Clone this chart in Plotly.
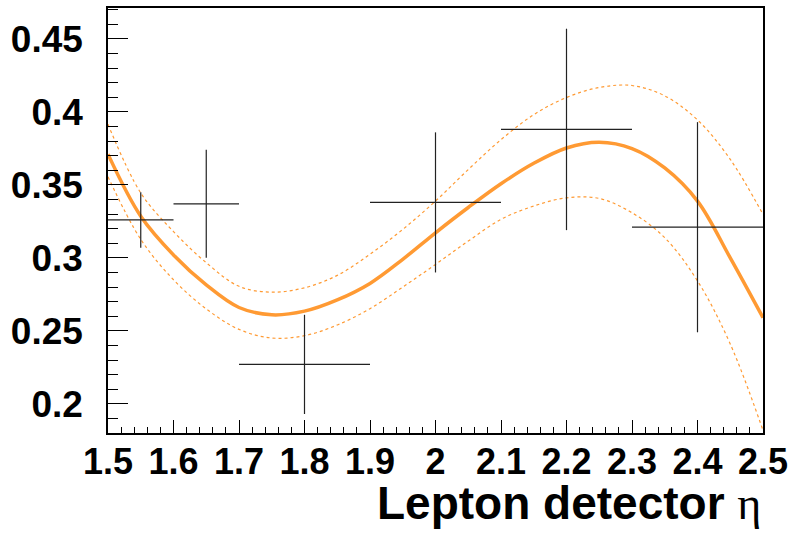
import plotly.graph_objects as go

# Measured points: bin centres, half bin widths, values and uncertainties
eta = [1.55, 1.65, 1.8, 2.0, 2.2, 2.4]
eta_halfwidth = [0.05, 0.05, 0.1, 0.1, 0.1, 0.1]
value = [0.326, 0.337, 0.227, 0.338, 0.388, 0.321]
value_err = [0.019, 0.037, 0.034, 0.048, 0.069, 0.072]

# Fitted curve and its one-sigma band, sampled along eta
fit_eta = [1.50, 1.55, 1.60, 1.65, 1.70, 1.75, 1.80, 1.85, 1.90, 1.95, 2.00,
           2.05, 2.10, 2.15, 2.20, 2.25, 2.30, 2.35, 2.40, 2.45, 2.50]
fit_central = [0.371, 0.3285, 0.3020, 0.2815, 0.2660, 0.2610, 0.2635, 0.2712,
               0.2825, 0.2990, 0.3172, 0.3345, 0.3508, 0.3648, 0.3753, 0.3792,
               0.3749, 0.3616, 0.3389, 0.3000, 0.2590]
fit_upper = [0.3915, 0.3445, 0.3180, 0.2967, 0.2805, 0.2765, 0.2795, 0.2880,
             0.3025, 0.3195, 0.3389, 0.3605, 0.3810, 0.3981, 0.4099, 0.4167,
             0.4181, 0.4110, 0.3945, 0.3675, 0.3298]
fit_lower = [0.3555, 0.3127, 0.2850, 0.2650, 0.2510, 0.2451, 0.2467, 0.2540,
             0.2652, 0.2800, 0.2955, 0.3115, 0.3264, 0.3355, 0.3411, 0.3407,
             0.3309, 0.3138, 0.2842, 0.2410, 0.1818]

x_ticks = [1.5, 1.6, 1.7, 1.8, 1.9, 2.0, 2.1, 2.2, 2.3, 2.4, 2.5]
x_ticktext = ["1.5", "1.6", "1.7", "1.8", "1.9", "2", "2.1", "2.2", "2.3", "2.4", "2.5"]
y_ticks = [0.2, 0.25, 0.3, 0.35, 0.4, 0.45]
y_ticktext = ["0.2", "0.25", "0.3", "0.35", "0.4", "0.45"]

ORANGE = "#ff9a33"
FONT = "Liberation Sans, Arial, sans-serif"

fig = go.Figure()

for band in (fit_upper, fit_lower):
    fig.add_trace(go.Scatter(
        x=fit_eta, y=band, mode="lines",
        line=dict(color=ORANGE, width=1.2, dash="3px,3px", shape="spline"),
        hoverinfo="skip", showlegend=False,
    ))

fig.add_trace(go.Scatter(
    x=fit_eta, y=fit_central, mode="lines",
    line=dict(color=ORANGE, width=3.5, shape="spline"),
    showlegend=False,
))

fig.add_trace(go.Scatter(
    x=eta, y=value, mode="markers",
    marker=dict(size=1, color="rgba(0,0,0,0)"),
    error_x=dict(type="data", array=eta_halfwidth, color="#222222", thickness=1.2, width=0),
    error_y=dict(type="data", array=value_err, color="#222222", thickness=1.2, width=0),
    showlegend=False,
))

fig.update_layout(
    width=796, height=533,
    margin=dict(l=108, r=33, t=6, b=100),
    paper_bgcolor="white", plot_bgcolor="white",
    font=dict(family=FONT, color="black"),
)

fig.update_xaxes(
    range=[1.5, 2.5], showgrid=False, zeroline=False,
    showline=True, linecolor="black", linewidth=1.5, mirror=True,
    tickmode="array", tickvals=x_ticks, ticktext=x_ticktext,
    ticks="inside", ticklen=13, tickwidth=1.2, tickcolor="black",
    tickfont=dict(family=FONT, size=36, weight="bold", color="black"),
    ticklabelstandoff=-4,
    minor=dict(tickmode="linear", tick0=1.5, dtick=0.02, ticks="inside",
               ticklen=6, tickwidth=1.2, tickcolor="black"),
)

fig.update_yaxes(
    range=[0.18, 0.4712], showgrid=False, zeroline=False,
    showline=True, linecolor="black", linewidth=1.5, mirror=True,
    tickmode="array", tickvals=y_ticks, ticktext=y_ticktext,
    ticks="inside", ticklen=20, tickwidth=1.2, tickcolor="black",
    tickfont=dict(family=FONT, size=37, weight="bold", color="black"),
    ticklabelstandoff=16,
    minor=dict(tickmode="linear", tick0=0.2, dtick=0.01, ticks="inside",
               ticklen=10, tickwidth=1.2, tickcolor="black"),
)

fig.add_annotation(
    xref="paper", yref="paper", x=1.0, y=-0.098,
    xanchor="right", yanchor="top", showarrow=False,
    text="Lepton detector <span style='font-family:Liberation Serif;font-weight:normal'>η</span>",
    font=dict(family=FONT, size=46, weight="bold", color="black"),
)

fig.write_html("out.html")
